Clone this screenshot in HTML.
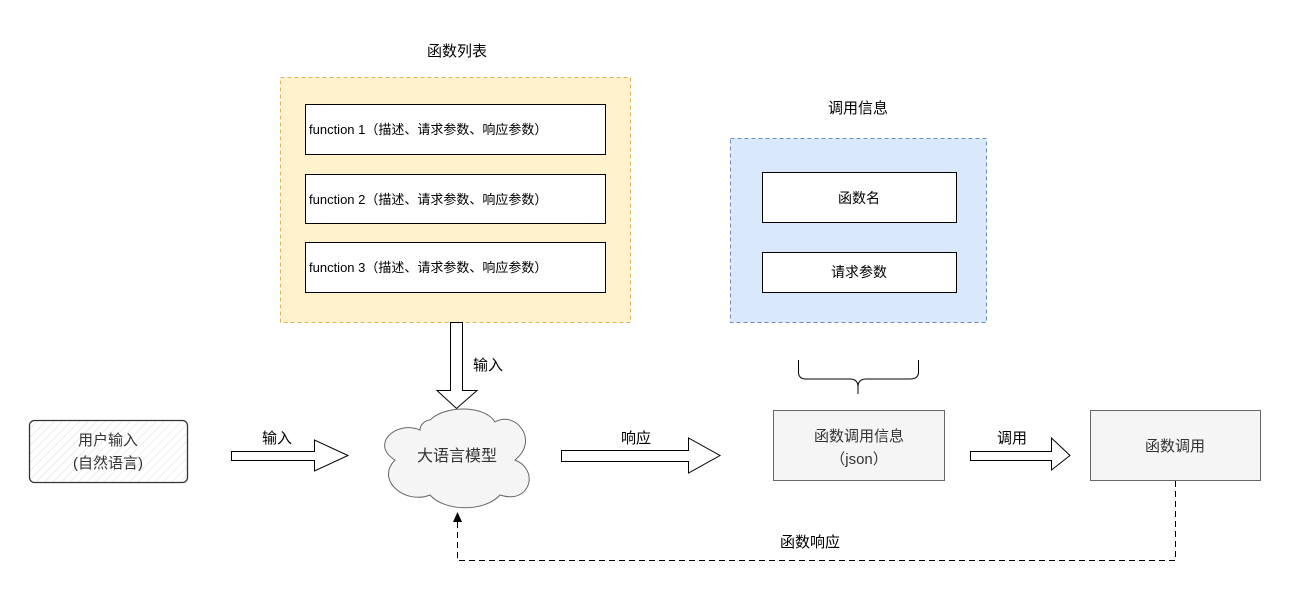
<!DOCTYPE html>
<html><head><meta charset="utf-8"><style>
body{margin:0;background:#fff;}
svg text{font-family:"Liberation Sans","Noto Sans CJK SC",sans-serif;}
</style></head><body>
<svg width="1292" height="599" viewBox="0 0 1292 599" xmlns="http://www.w3.org/2000/svg">
<defs>
<pattern id="h" width="6" height="6" patternUnits="userSpaceOnUse" patternTransform="rotate(45)">
<rect width="6" height="6" fill="#fff"/><line x1="0" y1="0" x2="0" y2="6" stroke="#ddd" stroke-width="1"/>
</pattern>
</defs>
<text x="457" y="56" font-size="15" text-anchor="middle" fill="#000">函数列表</text>
<rect x="280.5" y="77.5" width="350" height="245" fill="#fff2cc" stroke="#d6b656" stroke-dasharray="4 3"/>
<rect x="305.5" y="104.5" width="300" height="50" fill="#fff" stroke="#000"/>
<rect x="305.5" y="174.5" width="300" height="49" fill="#fff" stroke="#000"/>
<rect x="305.5" y="242.5" width="300" height="50" fill="#fff" stroke="#000"/>
<g font-size="13" fill="#000">
<text x="309" y="134">function 1（描述、请求参数、响应参数）</text>
<text x="309" y="204">function 2（描述、请求参数、响应参数）</text>
<text x="309" y="272">function 3（描述、请求参数、响应参数）</text>
</g>
<text x="858" y="113" font-size="15" text-anchor="middle">调用信息</text>
<rect x="730.5" y="138.5" width="256" height="184" fill="#dae8fc" stroke="#6c8ebf" stroke-dasharray="4 3"/>
<rect x="762.5" y="172.5" width="194" height="50" fill="#fff" stroke="#000"/>
<rect x="762.5" y="252.5" width="194" height="40" fill="#fff" stroke="#000"/>
<text x="859" y="203" font-size="14" text-anchor="middle">函数名</text>
<text x="859" y="277" font-size="14" text-anchor="middle">请求参数</text>
<path d="M798.5 360 V372 Q798.5 379 806 379 H850 Q858 379 858 387 V394 M858 387 Q858 379 866 379 H910 Q918.5 379 918.5 372 V360" fill="none" stroke="#000"/>
<!-- down arrow -->
<path d="M450.5 322.5 H462.5 V390.5 H477 L456.5 408.5 L437 390.5 H450.5 Z" fill="#fff" stroke="#000"/>
<text x="473" y="370" font-size="15">输入</text>
<!-- user input -->
<rect x="29.5" y="420.5" width="158" height="62" rx="5" fill="url(#h)" stroke="#333" stroke-width="1.3"/>
<text x="108" y="445" font-size="15" text-anchor="middle" fill="#333">用户输入</text>
<text x="108" y="468" font-size="15" text-anchor="middle" fill="#333">(自然语言)</text>
<!-- arrow1 -->
<path d="M231.5 451.5 H314.5 V440 L348 455.5 L314.5 471 V460.5 H231.5 Z" fill="#fff" stroke="#000"/>
<text x="262" y="443" font-size="15">输入</text>
<!-- cloud -->
<path d="M420 430 C395 420 370 445 395 460 C375 480 405 505 430 495 C445 512 485 512 500 495 C530 505 540 470 515 460 C540 440 515 410 495 422 C485 405 445 405 430 420 C425 420 420 425 420 430 Z" fill="#f5f5f5" stroke="#666"/>
<text x="457" y="461" font-size="16" text-anchor="middle" fill="#333">大语言模型</text>
<!-- arrow2 -->
<path d="M561.5 450.5 H688.5 V438 L720 455.5 L688.5 473 V461.5 H561.5 Z" fill="#fff" stroke="#000"/>
<text x="621" y="443" font-size="15">响应</text>
<rect x="773.5" y="410.5" width="171" height="70" fill="#f5f5f5" stroke="#666"/>
<text x="859" y="441" font-size="15" text-anchor="middle" fill="#333">函数调用信息</text>
<text x="859" y="464" font-size="15" text-anchor="middle" fill="#333">（json）</text>
<!-- arrow3 -->
<path d="M970.5 451.5 H1051.5 V438 L1070 455.5 L1051.5 470 V460.5 H970.5 Z" fill="#fff" stroke="#000"/>
<text x="997" y="443" font-size="15">调用</text>
<rect x="1090.5" y="410.5" width="170" height="70" fill="#f5f5f5" stroke="#666"/>
<text x="1175" y="451" font-size="15" text-anchor="middle" fill="#333">函数调用</text>
<!-- dashed return -->
<path d="M1175.5 481 V560.5 H457.5 V522" fill="none" stroke="#000" stroke-dasharray="6 4"/>
<path d="M453 522 L457.5 512 L462 522 Z" fill="#000"/>
<text x="780" y="547" font-size="15">函数响应</text>
</svg>
</body></html>
